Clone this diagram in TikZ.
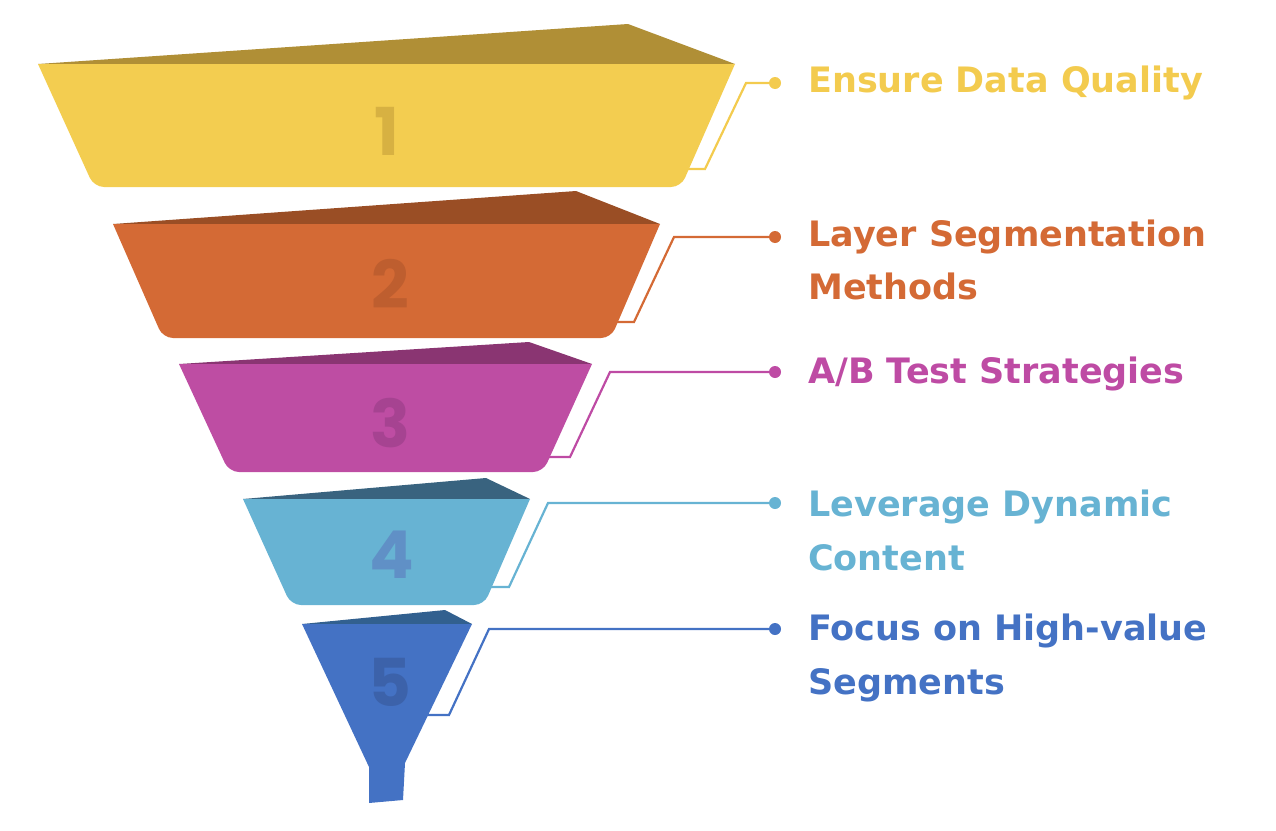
\documentclass[tikz,border=0pt]{standalone}
\usepackage{fontspec}
\newfontfamily\labfont{DejaVu Sans}
\newfontfamily\numfont{Poppins}
\definecolor{face1}{HTML}{F3CD50}\definecolor{top1}{HTML}{B08F36}\definecolor{num1}{HTML}{D7B142}\definecolor{txt1}{HTML}{F3CB4E}
\definecolor{face2}{HTML}{D46A35}\definecolor{top2}{HTML}{9A4E25}\definecolor{num2}{HTML}{BE5E2F}\definecolor{txt2}{HTML}{D46A35}
\definecolor{face3}{HTML}{BE4DA3}\definecolor{top3}{HTML}{8A3572}\definecolor{num3}{HTML}{A64391}\definecolor{txt3}{HTML}{BE4BA4}
\definecolor{face4}{HTML}{67B3D3}\definecolor{top4}{HTML}{39637F}\definecolor{num4}{HTML}{6090C6}\definecolor{txt4}{HTML}{67B3D3}
\definecolor{face5}{HTML}{4472C4}\definecolor{top5}{HTML}{32608F}\definecolor{num5}{HTML}{3C62AA}\definecolor{txt5}{HTML}{4472C4}
\tikzset{
  conn/.style={line width=2.2pt, line join=miter},
  dotmark/.style={circle, fill, inner sep=0pt, minimum size=12pt},
  lab/.style={anchor=base west, inner sep=0pt, font=\labfont\bfseries\fontsize{35}{42}\selectfont},
  numlab/.style={inner sep=0pt, font=\numfont\bfseries\fontsize{66}{70}\selectfont},
}
\begin{document}
\begin{tikzpicture}[x=1pt,y=-1pt]
\useasboundingbox (0,0) rectangle (1276,830);
% connectors (behind the funnel)
\coordinate (s1) at (670,169); \coordinate (s2) at (600,322); \coordinate (s3) at (535,457);
\coordinate (s4) at (475,587); \coordinate (s5) at (415,715);
\node[dotmark, txt1] (d1) at (775,83) {};
\node[dotmark, txt2] (d2) at (775,237) {};
\node[dotmark, txt3] (d3) at (775,372) {};
\node[dotmark, txt4] (d4) at (775,503) {};
\node[dotmark, txt5] (d5) at (775,629) {};
\draw[conn, txt1] (s1) -- (705,169) -- (746,83) -- (d1.center);
\draw[conn, txt2] (s2) -- (634,322) -- (674,237) -- (d2.center);
\draw[conn, txt3] (s3) -- (570,457) -- (610,372) -- (d3.center);
\draw[conn, txt4] (s4) -- (509,587) -- (548,503) -- (d4.center);
\draw[conn, txt5] (s5) -- (449,715) -- (489,629) -- (d5.center);
% layer 1
\fill[top1] (38,64) -- (628,24) -- (735,64) -- cycle;
\fill[face1] (38,64) [rounded corners=10pt] -- (94,187) -- (681,187) [sharp corners] -- (735,64) -- cycle;
% layer 2
\fill[top2] (113,224) -- (576,191) -- (660,224) -- cycle;
\fill[face2] (113,224) [rounded corners=10pt] -- (163,338) -- (611,338) [sharp corners] -- (660,224) -- cycle;
% layer 3
\fill[top3] (179,364) -- (529,342) -- (592,364) -- cycle;
\fill[face3] (179,364) [rounded corners=10pt] -- (229,472) -- (543,472) [sharp corners] -- (592,364) -- cycle;
% layer 4
\fill[top4] (243,499) -- (486,478) -- (530,499) -- cycle;
\fill[face4] (243,499) [rounded corners=10pt] -- (291,605) -- (484,605) [sharp corners] -- (530,499) -- cycle;
% layer 5
\fill[top5] (302,624) -- (445,610) -- (472,624) -- cycle;
\fill[face5] (302,624) -- (369,767) -- (369,803) -- (403,800) -- (405,763) -- (472,624) -- cycle;
% numbers
\node[numlab, num1] (n1) at (387,131) {1};
\node[numlab, num2] (n2) at (390,284) {2};
\node[numlab, num3] (n3) at (390,423) {3};
\node[numlab, num4] (n4) at (392,555) {4};
\node[numlab, num5] (n5) at (390,682) {5};
% labels
\node[lab, txt1] (t1) at (808,92) {Ensure Data Quality};
\node[lab, txt2] (t2a) at (808,246) {Layer Segmentation};
\node[lab, txt2] (t2b) at (808,299) {Methods};
\node[lab, txt3] (t3) at (808,383) {A/B Test Strategies};
\node[lab, txt4] (t4a) at (808,516) {Leverage Dynamic};
\node[lab, txt4] (t4b) at (808,570) {Content};
\node[lab, txt5] (t5a) at (808,640) {Focus on High-value};
\node[lab, txt5] (t5b) at (808,694) {Segments};
\end{tikzpicture}
\end{document}
